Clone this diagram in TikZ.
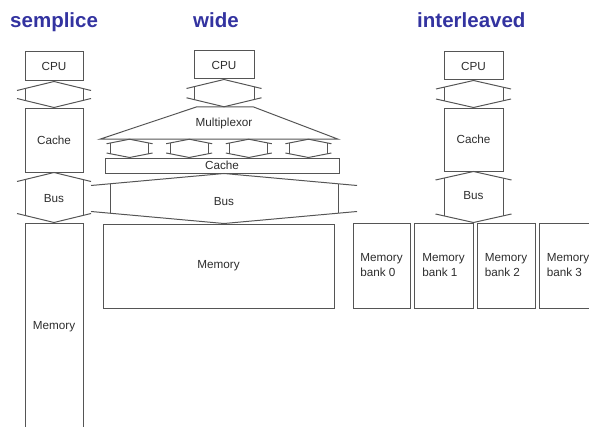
\documentclass[tikz,border=0pt]{standalone}
\usepackage{fontspec}
\setmainfont{Liberation Sans}
\usetikzlibrary{calc}

\definecolor{titleblue}{RGB}{51,51,160}
\definecolor{linegray}{RGB}{85,85,85}
\definecolor{textgray}{RGB}{45,45,45}

\def\px{0.03cm}

% wide double-headed connector between two apex points
% #1 top apex, #2 bottom apex, #3 half width of sides, #4 half width of heads, #5 drop of heads
\newcommand{\busarrow}[5]{%
  \draw[busline] ($(#1)+(-#4,#5)$) -- (#1) -- ($(#1)+(#4,#5)$);
  \draw[busline] ($(#2)+(-#4,-#5)$) -- (#2) -- ($(#2)+(#4,-#5)$);
  \draw[busline] ($(#1)+(-#3,{#5*#3/#4})$) -- ($(#2)+(-#3,{-#5*#3/#4})$);
  \draw[busline] ($(#1)+(#3,{#5*#3/#4})$) -- ($(#2)+(#3,{-#5*#3/#4})$);
}

\tikzset{
  box/.style={draw=linegray, line width=0.85pt, inner sep=0pt, text=textgray,
    font=\fontsize{10}{12.8}\selectfont},
  boxtext/.style={inner sep=0pt, text=textgray, font=\fontsize{10}{12.8}\selectfont},
  busline/.style={draw=linegray, line width=0.85pt},
  title/.style={anchor=base west, inner sep=0pt, text=titleblue,
    font=\fontsize{17.5}{20}\selectfont\bfseries},
}

\begin{document}
\begin{tikzpicture}[x=\px, y=-\px]
\useasboundingbox (0,0) rectangle (589,427);
\clip (0,0) rectangle (589,427);

% Titles
\node[title] (tS) at (10,28) {semplice};
\node[title] (tW) at (193,28) {wide};
\node[title] (tI) at (417,28) {interleaved};

% semplice
\node[box, minimum width=58*\px, minimum height=29*\px] (cpuS) at (54,66.5) {CPU};
\node[box, minimum width=58*\px, minimum height=64*\px] (cacheS) at (54,140) {Cache};
\node[box, minimum width=58*\px, minimum height=207*\px] (memS) at (54,326.5) {Memory};
\busarrow{cpuS.south}{cacheS.north}{29}{37}{9}
\busarrow{cacheS.south}{memS.north}{29}{37}{9}
\node[boxtext] (busS) at (54,199) {Bus};

% wide
\node[box, minimum width=60*\px, minimum height=28*\px] (cpuW) at (224,65) {CPU};
\node[minimum width=238*\px, minimum height=32*\px, inner sep=0pt] (mux) at (219,123) {};
\node[box, minimum width=234*\px, minimum height=15*\px] (cacheW) at (222,165.5) {Cache};
\node[box, minimum width=231*\px, minimum height=84*\px] (memW) at (218.5,266) {Memory};
\coordinate (muxtop) at (cpuW.south |- mux.north);
\draw[busline] (mux.south west) -- ($(muxtop)+(-27,0)$) -- ($(muxtop)+(29,0)$)
  -- (mux.south east) -- cycle;
\node[boxtext] (muxlabel) at (cpuW.center |- mux.center) {Multiplexor};
\busarrow{cpuW.south}{muxtop}{30}{37.5}{9}
\foreach \i in {1,...,4} {
  \coordinate (mt\i) at ($(mux.south west)!{(2*\i-1)/8}!(mux.south east)$);
  \coordinate (mb\i) at (mt\i |- cacheW.north);
  \busarrow{mt\i}{mb\i}{19}{23}{4.5}
}
\coordinate (busWtop) at (cpuW.south |- cacheW.south);
\coordinate (busWbot) at (cpuW.south |- memW.north);
\busarrow{busWtop}{busWbot}{114}{133}{12}
\node[boxtext] (busW) at (224,202) {Bus};

% interleaved
\node[box, minimum width=59*\px, minimum height=28*\px] (cpuI) at (473.5,66) {CPU};
\node[box, minimum width=59*\px, minimum height=63*\px] (cacheI) at (473.5,139.5) {Cache};
\node[box, align=left, minimum width=57*\px, minimum height=85*\px] (bank0) at (381.5,265.5) {Memory\\bank 0};
\node[box, align=left, minimum width=59*\px, minimum height=85*\px] (bank1) at (443.5,265.5) {Memory\\bank 1};
\node[box, align=left, minimum width=58*\px, minimum height=85*\px] (bank2) at (506,265.5) {Memory\\bank 2};
\node[box, align=left, minimum width=58*\px, minimum height=85*\px] (bank3) at (568,265.5) {Memory\\bank 3};
\busarrow{cpuI.south}{cacheI.north}{29.5}{37.5}{8.5}
\coordinate (busIbot) at (cacheI.south |- bank1.north);
\busarrow{cacheI.south}{busIbot}{29.5}{38}{8.5}
\node[boxtext] (busI) at (473.5,196) {Bus};
\end{tikzpicture}
\end{document}
